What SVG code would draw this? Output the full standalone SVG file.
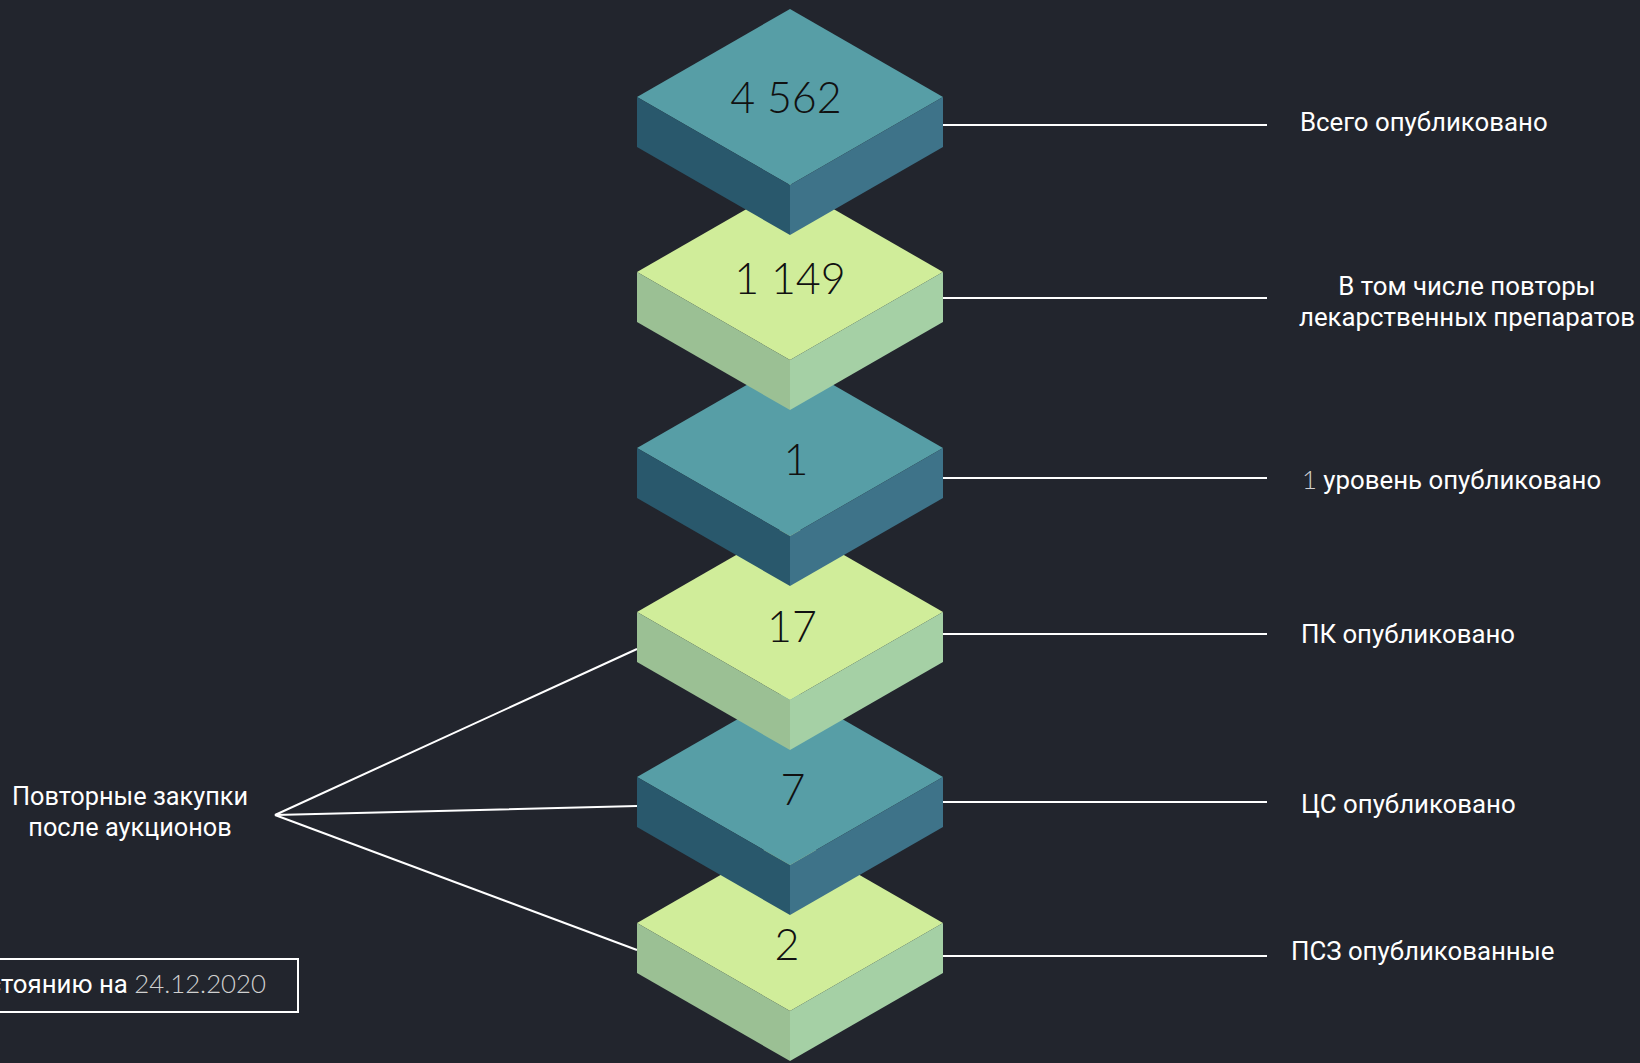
<svg xmlns="http://www.w3.org/2000/svg" xmlns:xlink="http://www.w3.org/1999/xlink" width="1640" height="1063" viewBox="0 0 1640 1063">
<style>
.bg{fill:#22252d}
.tt{fill:#579ea6}.tl{fill:#29586c}.tr{fill:#3e7389}
.gt{fill:#d0ed9a}.gl{fill:#9bc094}.gr{fill:#a5d0a5}
.num{font-family:Lato,"Liberation Sans",sans-serif;font-weight:300;font-size:43px;fill:#111;text-anchor:middle}
.lbl{font-family:Roboto,"Liberation Sans",sans-serif;font-size:25.8px;fill:#ffffff}
.lbll{font-family:Roboto,"Liberation Sans",sans-serif;font-size:25.3px;fill:#ffffff;text-anchor:middle}
.thin{font-family:Lato,"Liberation Sans",sans-serif;font-weight:300;fill:#d0d0d0}
.ln{stroke:#ffffff;stroke-width:2;fill:none}
</style>
<defs>
<g id="tealBlock">
<path class="tt" d="M0,0 L153,88 L0,176 L-153,88 Z"/>
<path class="tl" d="M-153,88 L0,176 L0,226 L-153,138 Z"/>
<path class="tr" d="M0,176 L153,88 L153,138 L0,226 Z"/>
</g>
<g id="greenBlock">
<path class="gt" d="M0,0 L153,88 L0,176 L-153,88 Z"/>
<path class="gl" d="M-153,88 L0,176 L0,226 L-153,138 Z"/>
<path class="gr" d="M0,176 L153,88 L153,138 L0,226 Z"/>
</g>
</defs>
<rect class="bg" x="0" y="0" width="1640" height="1063"/>
<g id="connectors">
<line class="ln" x1="943" y1="125" x2="1267" y2="125"/>
<line class="ln" x1="943" y1="298" x2="1267" y2="298"/>
<line class="ln" x1="943" y1="478" x2="1267" y2="478"/>
<line class="ln" x1="943" y1="634" x2="1267" y2="634"/>
<line class="ln" x1="943" y1="802" x2="1267" y2="802"/>
<line class="ln" x1="943" y1="956" x2="1267" y2="956"/>
<polyline class="ln" points="637,649 275,815 637,806"/>
<line class="ln" x1="275" y1="815" x2="637" y2="950"/>
</g>
<g id="node6">
<use xlink:href="#greenBlock" x="790" y="835"/>
<text class="num" x="787" y="960">2</text>
</g>
<g id="node5">
<use xlink:href="#tealBlock" x="790" y="689"/>
<text class="num" x="793" y="805">7</text>
</g>
<g id="node4">
<use xlink:href="#greenBlock" x="790" y="524"/>
<text class="num" x="792" y="642">17</text>
</g>
<g id="node3">
<use xlink:href="#tealBlock" x="790" y="360"/>
<text class="num" x="796" y="475">1</text>
</g>
<g id="node2">
<use xlink:href="#greenBlock" x="790" y="184"/>
<text class="num" x="790" y="294">1 149</text>
</g>
<g id="node1">
<use xlink:href="#tealBlock" x="790" y="9"/>
<text class="num" x="786" y="113">4 562</text>
</g>
<g id="label1"><text class="lbl" x="1300" y="131">Всего опубликовано</text></g>
<g id="label2"><text class="lbl" x="1467" y="295" text-anchor="middle">В том числе повторы</text><text class="lbl" x="1467" y="326" text-anchor="middle">лекарственных препаратов</text></g>
<g id="label3"><text class="lbl" x="1302" y="489"><tspan class="thin">1</tspan> уровень опубликовано</text></g>
<g id="label4"><text class="lbl" x="1301" y="643">ПК опубликовано</text></g>
<g id="label5"><text class="lbl" x="1301" y="813">ЦС опубликовано</text></g>
<g id="label6"><text class="lbl" x="1291" y="960">ПСЗ опубликованные</text></g>
<g id="labelLeft"><text class="lbll" x="130" y="805">Повторные закупки</text><text class="lbll" x="130" y="836">после аукционов</text></g>
<g id="dateBox">
<rect x="-10" y="959" width="308" height="53" fill="none" stroke="#ffffff" stroke-width="2"/>
<text class="lbl" x="266" y="993" text-anchor="end">По состоянию на <tspan class="thin">24.12.2020</tspan></text>
</g>
</svg>
